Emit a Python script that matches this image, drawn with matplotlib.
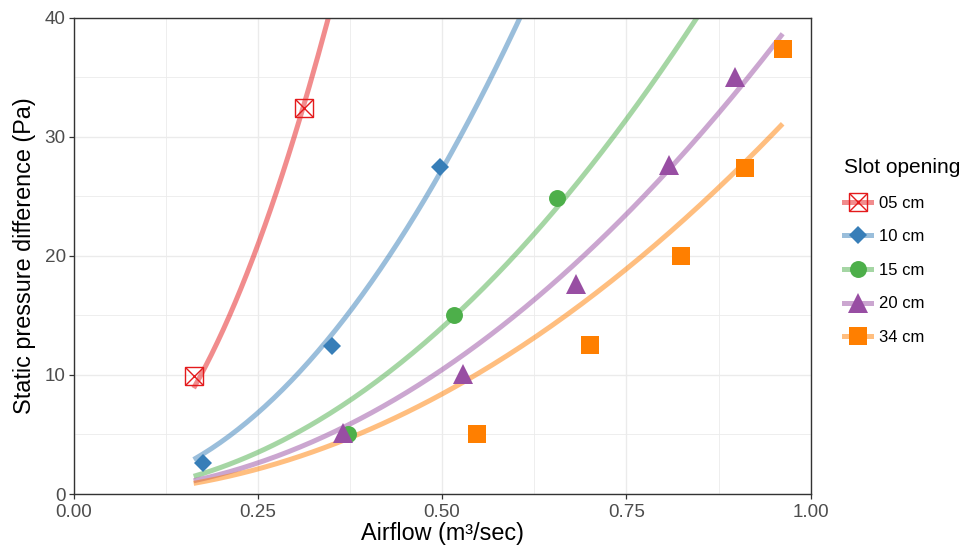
import numpy as np
import matplotlib.pyplot as plt
from matplotlib.lines import Line2D
from matplotlib.ticker import MultipleLocator

plt.rcParams['font.family'] = ['Liberation Sans', 'DejaVu Sans']

labels = ['05 cm', '10 cm', '15 cm', '20 cm', '34 cm']
x05 = [0.163, 0.3125]
y05 = [9.9, 32.4]
x10 = [0.175, 0.350, 0.497]
y10 = [2.6, 12.4, 27.5]
x15 = [0.373, 0.516, 0.656]
y15 = [5.0, 15.0, 24.9]
x20 = [0.365, 0.528, 0.682, 0.808, 0.897]
y20 = [5.15, 10.1, 17.6, 27.6, 35.0]
x34 = [0.548, 0.700, 0.8245, 0.911, 0.962]
y34 = [5.0, 12.5, 19.95, 27.4, 37.4]

xs = [x05, x10, x15, x20, x34]
ys = [y05, y10, y15, y20, y34]
colors = ['#E41A1C', '#377EB8', '#4DAF4A', '#984EA3', '#FF7F00']
markers = ['s', 'D', 'o', '^', 's']
msizes = [12.5, 8.8, 12.2, 15, 12.5]

fig = plt.figure(figsize=(9.66, 5.5), dpi=100)
ax = fig.add_axes([0.0761, 0.1018, 0.7631, 0.866])

# fitted curves y = k * x^2 (least squares per group), over full data range
xall = np.concatenate([np.array(v) for v in xs])
xx = np.linspace(xall.min(), xall.max(), 200)
for x, y, c in zip(xs, ys, colors):
    x = np.array(x)
    y = np.array(y)
    k = np.sum(x**2 * y) / np.sum(x**4)
    ax.plot(xx, k * xx**2, color=c, alpha=0.5, lw=3.6, solid_capstyle='butt', zorder=2)

handles = []
for i, (x, y, c, m, s) in enumerate(zip(xs, ys, colors, markers, msizes)):
    line_h = Line2D([], [], color=c, alpha=0.5, lw=3.6)
    if i == 0:
        ax.plot(x, y, ls='none', marker='s', ms=s, mfc='none', mec=c, mew=1.0, zorder=3)
        ax.plot(x, y, ls='none', marker='x', ms=s, mec=c, mew=1.0, zorder=3)
        mk1 = Line2D([], [], ls='none', marker='s', ms=s, mfc='none', mec=c, mew=1.0)
        mk2 = Line2D([], [], ls='none', marker='x', ms=s, mec=c, mew=1.0)
        handles.append((line_h, mk1, mk2))
    else:
        ax.plot(x, y, ls='none', marker=m, ms=s, color=c, mew=0, zorder=3)
        mk = Line2D([], [], ls='none', marker=m, ms=s, color=c, mew=0)
        handles.append((line_h, mk))

ax.set_xlim(0, 1)
ax.set_ylim(0, 40)
ax.xaxis.set_major_locator(MultipleLocator(0.25))
ax.xaxis.set_minor_locator(MultipleLocator(0.125))
ax.yaxis.set_major_locator(MultipleLocator(10))
ax.yaxis.set_minor_locator(MultipleLocator(5))
ax.xaxis.set_major_formatter(lambda v, p: f'{v:.2f}')
ax.grid(which='major', color='#EBEBEB', lw=1.0, zorder=0)
ax.grid(which='minor', color='#EBEBEB', lw=0.6, zorder=0)
ax.set_axisbelow(True)
ax.tick_params(which='major', length=3.6, width=0.9, color='#333333',
               labelcolor='#4D4D4D', labelsize=13.6, pad=2)
ax.tick_params(axis='x', which='major', pad=3.5)
ax.tick_params(which='minor', length=0)
for sp in ax.spines.values():
    sp.set_color('#333333')
    sp.set_linewidth(1.0)

ax.set_xlabel('Airflow (m³/sec)', fontsize=16.8, labelpad=1)
ax.set_ylabel('Static pressure difference (Pa)', fontsize=16.8, labelpad=6)

leg = ax.legend(handles, labels, title='Slot opening', loc='upper left',
                bbox_to_anchor=(836 / 966, (550 - 150) / 550),
                bbox_transform=fig.transFigure, frameon=False,
                fontsize=12, title_fontsize=15, alignment='left',
                borderpad=0, handlelength=1.6, handletextpad=0.5,
                labelspacing=1.11)

fig.savefig('out.png', dpi=100)
